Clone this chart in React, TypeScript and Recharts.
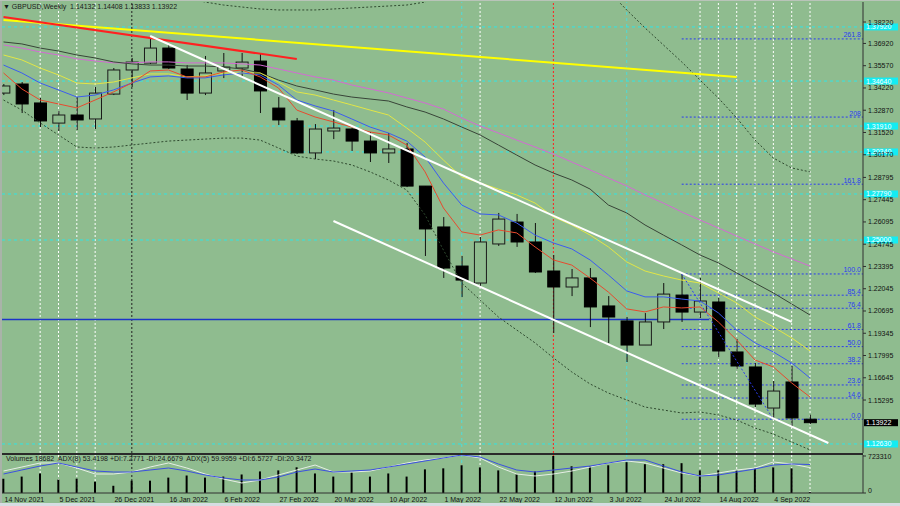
import React from "react";
import { ComposedChart, Bar, Line, XAxis, YAxis, ReferenceLine } from "recharts";

const BG = "#8fbc8f";
const FONT = "'Liberation Sans', Arial, sans-serif";

// weekly candles, 14 Nov 2021 .. 18 Sep 2022
const opens = [1.3391, 1.3446, 1.3331, 1.3209, 1.3258, 1.3234, 1.3385, 1.3531, 1.3573, 1.3664, 1.3537, 1.3391, 1.3525, 1.3543, 1.3585, 1.33, 1.3222, 1.3028, 1.3161, 1.3173, 1.31, 1.3028, 1.3052, 1.2827, 1.2579, 1.2342, 1.2239, 1.2476, 1.2609, 1.2488, 1.2312, 1.2215, 1.227, 1.21, 1.2009, 1.1863, 1.2003, 1.2166, 1.2063, 1.2124, 1.1821, 1.173, 1.1481, 1.1639, 1.14132];
const highs = [1.3446, 1.3458, 1.3361, 1.3282, 1.3367, 1.3428, 1.3543, 1.3604, 1.3725, 1.3683, 1.3561, 1.3616, 1.3634, 1.3634, 1.3628, 1.3367, 1.324, 1.3203, 1.3288, 1.3179, 1.3155, 1.3149, 1.3088, 1.2827, 1.2639, 1.2403, 1.2518, 1.2664, 1.2658, 1.2603, 1.2409, 1.2324, 1.233, 1.216, 1.2033, 1.2057, 1.2239, 1.2294, 1.227, 1.2148, 1.19, 1.1754, 1.1645, 1.1736, 1.14408];
const lows = [1.3379, 1.327, 1.3185, 1.3161, 1.3167, 1.3173, 1.3379, 1.3428, 1.3567, 1.3537, 1.3349, 1.3379, 1.3482, 1.3482, 1.327, 1.3197, 1.3022, 1.2991, 1.3112, 1.304, 1.2973, 1.2967, 1.2821, 1.2403, 1.227, 1.2154, 1.2215, 1.2464, 1.2458, 1.23, 1.1936, 1.216, 1.1972, 1.1875, 1.176, 1.1863, 1.196, 1.2003, 1.2027, 1.179, 1.1718, 1.1487, 1.1415, 1.1366, 1.13833];
const closes = [1.3434, 1.3325, 1.3222, 1.3258, 1.3228, 1.3391, 1.3531, 1.3579, 1.3664, 1.3543, 1.3391, 1.3513, 1.3549, 1.3579, 1.3404, 1.3228, 1.3028, 1.3173, 1.3179, 1.31, 1.3028, 1.3052, 1.2827, 1.2567, 1.233, 1.2257, 1.2488, 1.2627, 1.2488, 1.2306, 1.2215, 1.227, 1.2094, 1.2033, 1.1863, 1.2003, 1.2172, 1.2063, 1.213, 1.1827, 1.1736, 1.1505, 1.1584, 1.1421, 1.13922];
const volumes = [281000, 321000, 382000, 261000, 281000, 221000, 141000, 241000, 241000, 301000, 342000, 301000, 321000, 362000, 422000, 442000, 502000, 382000, 321000, 402000, 321000, 382000, 321000, 462000, 482000, 542000, 502000, 442000, 362000, 422000, 723310, 522000, 522000, 542000, 603000, 563000, 563000, 583000, 442000, 442000, 442000, 482000, 502000, 482000, 18682];

// moving averages
const maRed = [1.3513, 1.3416, 1.3349, 1.3325, 1.3301, 1.3349, 1.3398, 1.3452, 1.3525, 1.3531, 1.3489, 1.3489, 1.3519, 1.3531, 1.3489, 1.3422, 1.3288, 1.3246, 1.3216, 1.3185, 1.3155, 1.3137, 1.3076, 1.2913, 1.2694, 1.2549, 1.253, 1.2561, 1.2543, 1.2458, 1.2379, 1.2348, 1.2269, 1.2184, 1.2082, 1.2064, 1.2094, 1.2088, 1.2094, 1.2003, 1.1894, 1.1772, 1.173, 1.1633, 1.1548];
const maBlue = [1.3561, 1.3513, 1.3452, 1.341, 1.3367, 1.3379, 1.341, 1.3452, 1.3489, 1.3495, 1.3483, 1.3483, 1.3501, 1.3513, 1.3501, 1.344, 1.3349, 1.3313, 1.3282, 1.3234, 1.3185, 1.3149, 1.31, 1.3003, 1.2846, 1.2712, 1.2658, 1.2652, 1.2603, 1.253, 1.2482, 1.2446, 1.2379, 1.2288, 1.2191, 1.2155, 1.2155, 1.2142, 1.213, 1.2058, 1.1954, 1.1876, 1.1821, 1.1754, 1.1663];
const maYellow = [1.3622, 1.3592, 1.3543, 1.3501, 1.3452, 1.3446, 1.3458, 1.3483, 1.3507, 1.3507, 1.3489, 1.3495, 1.3513, 1.3513, 1.3513, 1.3458, 1.3398, 1.3379, 1.3349, 1.3319, 1.3288, 1.3258, 1.3179, 1.3094, 1.2985, 1.2882, 1.2846, 1.2809, 1.2773, 1.2724, 1.264, 1.2591, 1.253, 1.2458, 1.2367, 1.2312, 1.2282, 1.2257, 1.2239, 1.2179, 1.2118, 1.2033, 1.1973, 1.1906, 1.1827];
const maDark = [1.3701, 1.3689, 1.3664, 1.3646, 1.3622, 1.3604, 1.358, 1.3568, 1.3561, 1.3561, 1.3555, 1.3555, 1.3549, 1.3537, 1.3513, 1.347, 1.3434, 1.341, 1.3385, 1.3367, 1.3355, 1.3343, 1.3307, 1.3276, 1.3234, 1.3185, 1.3137, 1.3076, 1.3015, 1.2955, 1.2906, 1.2864, 1.2809, 1.2712, 1.2664, 1.2591, 1.253, 1.247, 1.2409, 1.2361, 1.23, 1.2239, 1.2179, 1.2112, 1.2045];
const maMagenta = [1.3683, 1.3664, 1.364, 1.3622, 1.3598, 1.3586, 1.3574, 1.3574, 1.358, 1.358, 1.3574, 1.3574, 1.3574, 1.3568, 1.3561, 1.3537, 1.3513, 1.3489, 1.347, 1.344, 1.3416, 1.3392, 1.3361, 1.3331, 1.3294, 1.324, 1.3191, 1.3149, 1.3106, 1.3064, 1.3021, 1.2973, 1.2925, 1.2876, 1.2828, 1.2773, 1.2724, 1.267, 1.2621, 1.2573, 1.2524, 1.2476, 1.2428, 1.2385, 1.2342];
const bandUpper = [1.42, 1.4185, 1.417, 1.4155, 1.414, 1.411, 1.408, 1.405, 1.402, 1.3995, 1.397, 1.3943, 1.3925, 1.3913, 1.3901, 1.3895, 1.3895, 1.3895, 1.3901, 1.3907, 1.3913, 1.3919, 1.3925, 1.3943, 1.401, 1.41, 1.416, 1.418, 1.418, 1.417, 1.415, 1.412, 1.407, 1.401, 1.3895, 1.3786, 1.3683, 1.358, 1.347, 1.3361, 1.324, 1.3106, 1.2997, 1.2937, 1.2913];
const bandLower = [1.3349, 1.3288, 1.321, 1.3137, 1.3064, 1.3058, 1.3064, 1.3076, 1.3088, 1.31, 1.3106, 1.3112, 1.3118, 1.3118, 1.3106, 1.3058, 1.3009, 1.2991, 1.2979, 1.2955, 1.2913, 1.2864, 1.2803, 1.2652, 1.2439, 1.2239, 1.2136, 1.2033, 1.1954, 1.1876, 1.1785, 1.17, 1.1627, 1.1572, 1.153, 1.1487, 1.1469, 1.1451, 1.1457, 1.1439, 1.1408, 1.136, 1.1323, 1.1275, 1.1227];

// ADX lines in the lower window
const adx5 = [40.0, 48.4, 56.8, 63.2, 54.7, 46.3, 44.2, 44.2, 48.4, 52.6, 46.3, 37.9, 31.6, 27.4, 27.4, 33.7, 44.2, 50.5, 44.2, 46.3, 48.4, 54.7, 61.0, 67.4, 73.7, 80.0, 75.8, 61.0, 48.4, 44.2, 48.4, 52.6, 56.8, 63.2, 69.5, 69.5, 56.8, 44.2, 35.8, 37.9, 44.2, 50.5, 58.9, 61.0, 60.0];
const adx8 = [46.3, 54.7, 63.2, 63.2, 52.6, 40.0, 40.0, 44.2, 54.7, 63.2, 52.6, 40.0, 29.5, 21.1, 27.4, 37.9, 48.4, 58.9, 44.2, 44.2, 46.3, 54.7, 63.2, 69.5, 73.7, 80.0, 73.7, 54.7, 40.0, 35.8, 40.0, 46.3, 54.7, 63.2, 67.4, 63.2, 52.6, 42.1, 35.8, 42.1, 48.4, 52.6, 65.3, 61.0, 53.4];

const dateLabels = ["14 Nov 2021", "5 Dec 2021", "26 Dec 2021", "16 Jan 2022", "6 Feb 2022", "27 Feb 2022", "20 Mar 2022", "10 Apr 2022", "1 May 2022", "22 May 2022", "12 Jun 2022", "3 Jul 2022", "24 Jul 2022", "14 Aug 2022", "4 Sep 2022"];
const dateTicks = dateLabels.map((_, k) => k * 3);
const priceTicks = [1.3822, 1.3692, 1.3557, 1.3422, 1.3287, 1.3152, 1.3017, 1.28795, 1.27445, 1.26095, 1.24745, 1.23395, 1.22045, 1.20695, 1.19345, 1.17995, 1.16645, 1.15295];

const cyanLevels = [1.3792, 1.3464, 1.3191, 1.3034, 1.2779, 1.25, 1.1263];
const fibLow = 1.1413;
const fibHigh = 1.2294;
const fibRatios = [2.618, 2.08, 1.618, 1.0, 0.854, 0.764, 0.618, 0.5, 0.382, 0.236, 0.146, 0];
const fibNames = ["261.8", "208", "161.8", "100.0", "85.4", "76.4", "61.8", "50.0", "38.2", "23.6", "14.6", "0.0"];
const supportLevel = 1.2018;
const lastClose = 1.13922;

const whiteMarks = [2, 3, 4, 5, 26, 38, 39, 40, 41, 42, 43, 44];
const blackMarks = [7];
const redMarks = [30];
const cyanMarks = [25, 34];

// trend lines: [bar, price] pairs
const redTrend = [[0, 1.3852], [16, 1.3598]];
const yellowTrend = [[0, 1.3834], [40, 1.3489]];
const channelTop = [[8, 1.3737], [43, 1.2003]];
const channelBottom = [[18, 1.2615], [45, 1.1269]];
const fibDiagonal = [[37, fibHigh], [42, fibLow]];

const rows = opens.map((o, i) => ({
  i,
  open: o,
  high: highs[i],
  low: lows[i],
  close: closes[i],
  volume: volumes[i],
  red: maRed[i],
  blue: maBlue[i],
  yellow: maYellow[i],
  dark: maDark[i],
  magenta: maMagenta[i],
  up: bandUpper[i],
  lo: bandLower[i],
  adx5: adx5[i],
  adx8: adx8[i],
}));

const X_DOMAIN: [number, number] = [-0.082, 46.89];
const PRICE_DOMAIN: [number, number] = [1.12083, 1.39433];
const BACK = -50;

const Candle = (props: any) => {
  const { x, y, width, height } = props;
  const d = props.payload || props;
  if (d == null || d.high == null || x == null) return null;
  const top = Math.min(y, y + height);
  const h = Math.abs(height);
  const span = d.high - d.low || 1e-9;
  const at = (v: number) => top + ((d.high - v) / span) * h;
  const cx = x + width / 2;
  const yo = at(d.open);
  const yc = at(d.close);
  const bull = d.close >= d.open;
  return (
    <g>
      <line x1={cx} x2={cx} y1={top} y2={top + h} stroke="#111" strokeWidth={1} />
      <rect
        x={x + 0.5}
        y={Math.min(yo, yc)}
        width={width - 1}
        height={Math.max(1, Math.abs(yc - yo))}
        fill={bull ? BG : "#000"}
        stroke={bull ? "#1a1a1a" : "#000"}
        strokeWidth={1}
      />
    </g>
  );
};

const PriceTick = ({ x, y, payload }: any) => (
  <text x={x} y={y} dy={2.5} fontSize={7} fontFamily={FONT} fill="#111" textAnchor="start">
    {Number(payload.value).toFixed(5)}
  </text>
);

const VolTick = ({ x, y, payload }: any) => (
  <text x={x} y={payload.value === 0 ? y - 0.5 : y + 2.5} fontSize={7} fontFamily={FONT} fill="#111" textAnchor="start">
    {payload.value}
  </text>
);

const DateTick = ({ x, y, payload }: any) => (
  <text x={x + 1} y={y + 8.5} fontSize={7} fontFamily={FONT} fill="#111" textAnchor="start">
    {dateLabels[Math.round(payload.value / 3)]}
  </text>
);

const FibLabel = ({ viewBox, text }: any) => {
  if (!viewBox) return null;
  return (
    <text x={viewBox.x + viewBox.width - 2} y={viewBox.y - 1.5} fontSize={7} fontFamily={FONT} fill="#2b3cf0" textAnchor="end">
      {text}
    </text>
  );
};

const PriceTag = ({ viewBox, text, fill, color }: any) => {
  if (!viewBox) return null;
  const left = viewBox.x + viewBox.width + 1;
  return (
    <g>
      <rect x={left} y={viewBox.y - 3.5} width={34} height={7} fill={fill} />
      <text x={left + 2} y={viewBox.y + 2.5} fontSize={7} fontFamily={FONT} fill={color}>
        {text}
      </text>
    </g>
  );
};

const seg = (pts: number[][]) => pts.map(([x, y]) => ({ x, y }));

const verticals = (axis?: string) => {
  const extra: any = axis ? { yAxisId: axis } : {};
  return [
    ...whiteMarks.map((m) => (
      <ReferenceLine key={`w${m}`} x={m} stroke="#ffffff" strokeDasharray="2 2" strokeWidth={1} zIndex={BACK} {...extra} />
    )),
    ...blackMarks.map((m) => (
      <ReferenceLine key={`k${m}`} x={m} stroke="#222" strokeDasharray="2 2" strokeWidth={1} zIndex={BACK} {...extra} />
    )),
    ...redMarks.map((m) => (
      <ReferenceLine key={`r${m}`} x={m} stroke="#ff2020" strokeDasharray="2 2" strokeWidth={1} zIndex={BACK} {...extra} />
    )),
    ...cyanMarks.map((m) => (
      <ReferenceLine key={`c${m}`} x={m} stroke="#4fdcd8" strokeDasharray="3 3" strokeWidth={1} zIndex={BACK} {...extra} />
    )),
  ];
};

export default function App() {
  return (
    <div style={{ position: "absolute", left: 0, top: 0, width: 900, height: 506, background: BG, overflow: "hidden" }}>
      <div style={{ position: "absolute", left: 0, top: 0 }}>
        <ComposedChart width={900} height={454} data={rows} margin={{ top: 2, right: 0, bottom: 1, left: 2 }}>
          <XAxis dataKey="i" type="number" domain={X_DOMAIN} allowDataOverflow hide />
          <YAxis
            orientation="right"
            type="number"
            domain={PRICE_DOMAIN}
            allowDataOverflow
            ticks={priceTicks}
            interval={0}
            width={37}
            tickSize={3}
            tickMargin={2}
            axisLine={{ stroke: "#303030" }}
            tickLine={{ stroke: "#303030" }}
            tick={<PriceTick />}
          />
          {verticals()}
          {cyanLevels.map((lv) => (
            <ReferenceLine
              key={`cy${lv}`}
              y={lv}
              stroke="#2fe6e6"
              strokeDasharray="3 3"
              strokeWidth={1}
              zIndex={BACK}
              label={<PriceTag text={lv.toFixed(5)} fill="#14ecf2" color="#ffffff" />}
            />
          ))}
          <ReferenceLine
            segment={seg([[X_DOMAIN[0], supportLevel], [38.5, supportLevel]])}
            stroke="#1c34c8"
            strokeWidth={1.5}
            ifOverflow="visible"
            zIndex={BACK}
          />
          {fibRatios.map((r, k) => {
            const lv = fibLow + r * (fibHigh - fibLow);
            return (
              <ReferenceLine
                key={`fib${k}`}
                segment={[{ x: 37, y: lv }, { x: X_DOMAIN[1], y: lv }]}
                stroke="#2b3cf0"
                strokeDasharray="2 2"
                strokeWidth={1}
                ifOverflow="visible"
                zIndex={BACK}
                label={<FibLabel text={fibNames[k]} />}
              />
            );
          })}
          <ReferenceLine
            y={lastClose}
            stroke="none"
            label={<PriceTag text={lastClose.toFixed(5)} fill="#000000" color="#ffffff" />}
          />
          <Bar dataKey={(d: any) => [d.low, d.high]} barSize={13} shape={Candle} isAnimationActive={false} />
          <Line dataKey="up" stroke="#2f4a2f" strokeDasharray="2 2" strokeWidth={1} dot={false} isAnimationActive={false} />
          <Line dataKey="lo" stroke="#2f4a2f" strokeDasharray="2 2" strokeWidth={1} dot={false} isAnimationActive={false} />
          <Line dataKey="magenta" stroke="#d46ad4" strokeWidth={1} dot={false} isAnimationActive={false} />
          <Line dataKey="dark" stroke="#384438" strokeWidth={1} dot={false} isAnimationActive={false} />
          <Line dataKey="yellow" stroke="#e2e646" strokeWidth={1} dot={false} isAnimationActive={false} />
          <Line dataKey="blue" stroke="#3c5cf0" strokeWidth={1} dot={false} isAnimationActive={false} />
          <Line dataKey="red" stroke="#e84a2e" strokeWidth={1} dot={false} isAnimationActive={false} />
          <ReferenceLine segment={seg(fibDiagonal)} stroke="#2b3cf0" strokeDasharray="2 2" strokeWidth={1} ifOverflow="visible" />
          <ReferenceLine segment={seg(yellowTrend)} stroke="#ffff00" strokeWidth={2} ifOverflow="visible" />
          <ReferenceLine segment={seg(redTrend)} stroke="#ff2020" strokeWidth={2} ifOverflow="visible" />
          <ReferenceLine segment={seg(channelTop)} stroke="#ffffff" strokeWidth={2} ifOverflow="visible" />
          <ReferenceLine segment={seg(channelBottom)} stroke="#ffffff" strokeWidth={2} ifOverflow="visible" />
        </ComposedChart>
      </div>

      <div style={{ position: "absolute", left: 0, top: 453 }}>
        <ComposedChart width={900} height={53} data={rows} margin={{ top: 2, right: 0, bottom: 0, left: 2 }}>
          <XAxis
            dataKey="i"
            type="number"
            domain={X_DOMAIN}
            allowDataOverflow
            ticks={dateTicks}
            interval={0}
            height={13}
            tickSize={0}
            tickMargin={0}
            axisLine={{ stroke: "#303030" }}
            tick={<DateTick />}
          />
          <YAxis
            yAxisId="vol"
            orientation="right"
            domain={[0, 742860]}
            allowDataOverflow
            ticks={[0, 723310]}
            interval={0}
            width={37}
            tickSize={3}
            tickMargin={2}
            axisLine={{ stroke: "#303030" }}
            tickLine={{ stroke: "#303030" }}
            tick={<VolTick />}
          />
          <YAxis yAxisId="adx" hide domain={[0, 80]} allowDataOverflow />
          {verticals("vol")}
          <Bar yAxisId="vol" dataKey="volume" barSize={2} fill="#000" isAnimationActive={false} />
          <Line yAxisId="adx" dataKey="adx8" stroke="#e6eee6" strokeWidth={1} dot={false} isAnimationActive={false} />
          <Line yAxisId="adx" dataKey="adx5" stroke="#3c50e0" strokeWidth={1} dot={false} isAnimationActive={false} />
        </ComposedChart>
      </div>

      <div style={{ position: "absolute", left: 2, top: 453, width: 861, height: 1.5, background: "#2a2a2a" }} />
      <div style={{ position: "absolute", left: 0, top: 0, width: 2, height: 503, background: "#a9b3a9" }} />
      <div style={{ position: "absolute", left: 0, top: 0, width: 900, height: 1, background: "#b9c4b9" }} />
      <div style={{ position: "absolute", left: 0, top: 503, width: 900, height: 3, background: "#d6dde2" }} />

      <div style={{ position: "absolute", left: 3, top: 2, fontFamily: FONT, fontSize: 7, color: "#1a1a1a", whiteSpace: "pre", lineHeight: "9px" }}>
        {"▼ GBPUSD,Weekly  1.14132 1.14408 1.13833 1.13922"}
      </div>
      <div style={{ position: "absolute", left: 6, top: 454, fontFamily: FONT, fontSize: 7, color: "#1a1a1a", whiteSpace: "pre", lineHeight: "9px" }}>
        {"Volumes 18682  ADX(8) 53.4198 +DI:7.2771 -DI:24.6679  ADX(5) 59.9959 +DI:6.5727 -DI:20.3472"}
      </div>
    </div>
  );
}
